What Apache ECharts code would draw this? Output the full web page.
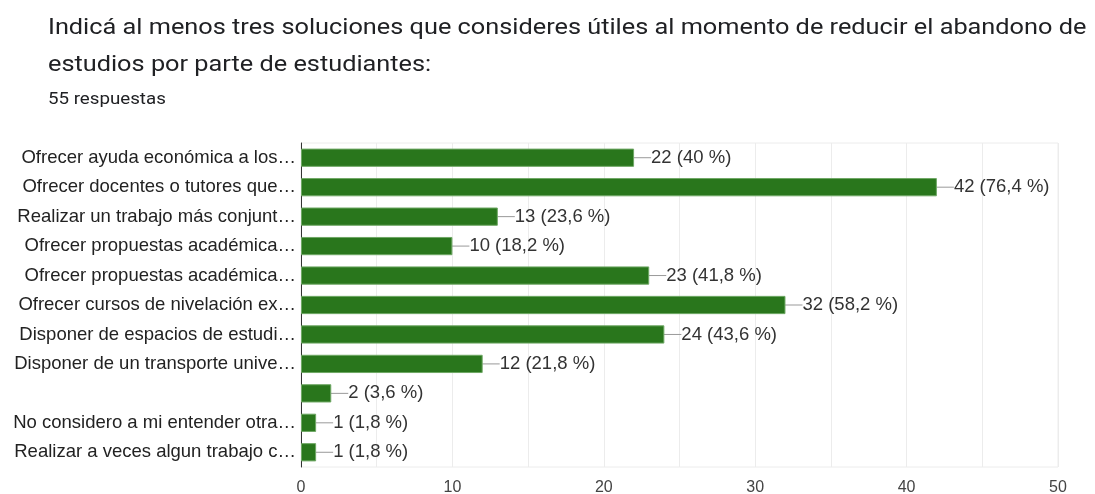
<!DOCTYPE html>
<html>
<head>
<meta charset="utf-8">
<script src="https://cdn.jsdelivr.net/npm/echarts@6/dist/echarts.min.js"></script>
<style>
  html, body { margin: 0; padding: 0; background: #fff; }
  #chartDiv { width: 1095px; height: 494px; }
</style>
</head>
<body>
<div id="chartDiv"></div>
<script>
var titleLines = [
    'Indicá al menos tres soluciones que consideres útiles al momento de reducir el abandono de',
    'estudios por parte de estudiantes:'
];
var subtitle = '55 respuestas';
var categories = [
    'Ofrecer ayuda económica a los…',
    'Ofrecer docentes o tutores que…',
    'Realizar un trabajo más conjunt…',
    'Ofrecer propuestas académica…',
    'Ofrecer propuestas académica…',
    'Ofrecer cursos de nivelación ex…',
    'Disponer de espacios de estudi…',
    'Disponer de un transporte unive…',
    '',
    'No considero a mi entender otra…',
    'Realizar a veces algun trabajo c…'
];
var counts = [22, 42, 13, 10, 23, 32, 24, 12, 2, 1, 1];
var totalResponses = 55;
var xTicks = [0, 10, 20, 30, 40, 50];

var myChart = echarts.init(document.getElementById('chartDiv'));

function pctLabel(v) {
    var p = (v / totalResponses * 100).toFixed(1).replace(/\.0$/, '').replace('.', ',');
    return v + ' (' + p + ' %)';
}

// header text is a little wider than the plain font, so it gets stretched
function headerText(text, y, size, stretch) {
    return {
        type: 'text',
        x: 48,
        y: y,
        scaleX: stretch,
        style: {
            text: text,
            font: size + 'px Roboto',
            fill: '#202124',
            verticalAlign: 'middle'
        }
    };
}

var option = {
    animation: false,
    textStyle: {fontFamily: 'Liberation Sans, Arial, sans-serif'},
    graphic: [
        headerText(titleLines[0], 28, 22, 1.15),
        headerText(titleLines[1], 65, 22, 1.15),
        headerText(subtitle, 100, 16, 1.17)
    ],
    grid: {
        left: 301,
        right: 37,
        top: 143,
        bottom: 27,
        outerBoundsMode: 'none',
        containLabel: false,
        show: true,
        borderColor: '#ececec',
        borderWidth: 1
    },
    xAxis: {
        type: 'value',
        min: 0,
        max: 50,
        interval: 5,
        axisLine: {show: false},
        axisTick: {show: false},
        splitLine: {lineStyle: {color: '#ececec'}},
        axisLabel: {
            fontSize: 16,
            color: '#444',
            margin: 13,
            formatter: function (v) {
                return xTicks.indexOf(v) >= 0 ? String(v) : '';
            }
        }
    },
    yAxis: {
        type: 'category',
        inverse: true,
        data: categories,
        axisLine: {show: true, lineStyle: {color: '#333', width: 1}},
        axisTick: {show: false},
        axisLabel: {fontSize: 18.5, color: '#222', margin: 5}
    },
    series: [{
        type: 'bar',
        data: counts,
        barCategoryGap: '38%',
        itemStyle: {color: '#29761c', borderColor: '#6fa865', borderWidth: 1},
        label: {
            show: true,
            position: 'right',
            distance: 0,
            fontSize: 18.5,
            color: '#333',
            formatter: function (p) { return pctLabel(p.value); }
        },
        labelLayout: {dx: 17},
        labelLine: {show: true, lineStyle: {color: '#999', width: 1}}
    }]
};
myChart.setOption(option);
window.onresize = myChart.resize;
</script>
</body>
</html>
